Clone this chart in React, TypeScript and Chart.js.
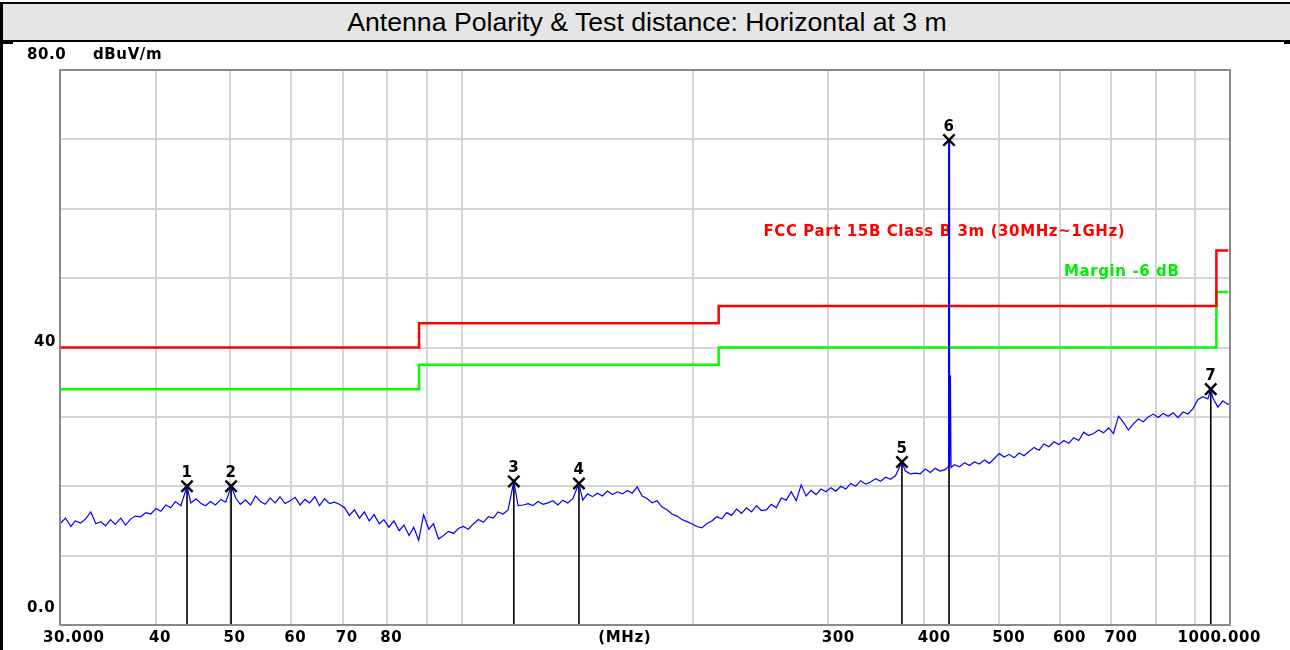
import React, { useEffect, useRef } from 'react';
import { Chart, registerables } from 'chart.js';

Chart.register(...registerables);

const TITLE = 'Antenna Polarity & Test distance: Horizontal at 3 m';
const Y_UNIT = 'dBuV/m';
const X_UNIT = '(MHz)';
const X_UNIT_FREQ = 163;
const X_MIN = 30;
const X_MAX = 1000;
const Y_MIN = 0;
const Y_MAX = 80;

const xGridValues = [40, 50, 60, 70, 80, 90, 100, 200, 300, 400, 500, 600, 700, 800, 900];
const xTickValues = [30, 40, 50, 60, 70, 80, 300, 400, 500, 600, 700, 1000];
const xTickTexts = ['30.000', '40', '50', '60', '70', '80', '300', '400', '500', '600', '700', '1000.000'];
const yTickValues = [0, 40, 80];
const yTickTexts = ['0.0', '40', '80.0'];

const traceFreq = [
  30.0, 30.5, 31.0, 31.4, 31.9, 32.4, 32.9, 33.4, 33.9, 34.4, 34.9, 35.4, 36.0, 36.5, 37.1, 37.6, 38.2, 38.8, 39.4, 40.0,
  40.6, 41.2, 41.8, 42.4, 43.1, 43.9, 44.4, 45.1, 45.8, 46.4, 47.1, 47.8, 48.6, 49.3, 50.1, 50.8, 51.5, 52.3, 53.1, 53.9,
  54.7, 55.5, 56.3, 57.2, 58.0, 58.9, 59.8, 60.7, 61.6, 62.5, 63.4, 64.4, 65.3, 66.3, 67.3, 68.3, 69.3, 70.4, 71.4, 72.5,
  73.6, 74.7, 75.8, 76.9, 78.1, 79.2, 80.4, 81.6, 82.9, 84.1, 85.4, 86.6, 87.9, 89.2, 90.6, 91.9, 93.3, 94.7, 96.1, 97.6,
  99.0, 100.5, 102.0, 103.6, 105.1, 106.7, 108.3, 109.9, 111.5, 113.2, 114.9, 116.9, 118.4, 120.2, 122.0, 123.8, 125.7, 127.6, 129.5, 131.4,
  133.4, 135.4, 137.4, 139.5, 142.1, 143.7, 145.8, 148.0, 150.2, 152.5, 154.8, 157.1, 159.5, 161.9, 164.3, 166.7, 169.2, 171.8, 174.4, 177.0,
  179.6, 182.3, 185.0, 187.8, 190.6, 193.5, 196.4, 199.3, 202.3, 205.4, 208.4, 211.6, 214.7, 218.0, 221.2, 224.5, 227.9, 231.3, 234.8, 238.3,
  241.9, 245.5, 249.2, 252.9, 256.7, 260.6, 264.5, 268.5, 272.5, 276.6, 280.7, 284.9, 289.2, 293.5, 297.9, 302.4, 306.9, 311.5, 316.2, 320.9,
  325.7, 330.6, 335.6, 340.6, 345.7, 350.9, 356.2, 361.5, 366.9, 374.1, 378.0, 383.7, 389.4, 395.3, 401.2, 407.2, 413.3, 419.5, 425.8, 429.5,
  430.3, 430.8, 431.3, 431.8, 432.6, 433.4, 438.0, 444.6, 451.3, 458.0, 464.9, 471.9, 479.0, 486.1, 493.4, 500.8, 508.3, 515.9, 523.7, 531.5,
  539.5, 547.6, 555.8, 564.1, 572.6, 581.2, 589.9, 598.8, 607.7, 616.9, 626.1, 635.5, 645.0, 654.7, 664.5, 674.5, 684.6, 694.9, 705.3, 715.9,
  726.6, 737.5, 748.6, 759.8, 771.2, 782.8, 794.5, 806.4, 818.5, 830.8, 843.3, 855.9, 868.8, 881.8, 895.0, 908.5, 922.1, 935.9, 944.0, 950.0,
  964.2, 978.7, 993.4, 1000.0,
];

const traceLevel = [
  14.6, 15.4, 14.2, 15.0, 14.7, 15.3, 16.3, 14.6, 14.9, 14.3, 15.2, 14.5, 15.4, 14.4, 15.3, 15.7, 15.6, 16.2, 16.0, 16.8,
  16.4, 17.3, 16.9, 17.8, 17.2, 20.0, 17.6, 18.2, 17.5, 17.2, 17.8, 17.3, 18.1, 17.7, 20.0, 18.3, 17.4, 18.0, 17.3, 18.6,
  17.8, 17.4, 18.3, 17.6, 18.5, 17.5, 17.9, 18.4, 17.3, 18.1, 17.6, 18.5, 17.2, 18.2, 17.5, 17.7, 17.4, 16.9, 15.8, 16.6,
  15.4, 16.3, 15.0, 15.9, 14.6, 15.2, 14.1, 15.0, 13.6, 14.4, 12.9, 14.1, 12.2, 15.9, 13.8, 14.6, 12.4, 12.9, 13.5, 13.2,
  13.9, 14.2, 13.8, 14.6, 15.2, 14.8, 15.6, 15.4, 16.3, 16.0, 16.6, 20.7, 17.2, 17.3, 17.5, 17.2, 17.8, 17.4, 17.6, 17.9,
  17.3, 18.0, 17.6, 18.2, 20.4, 18.0, 18.9, 18.5, 19.0, 18.6, 19.3, 18.8, 19.2, 18.9, 19.4, 19.0, 19.9, 18.6, 18.2, 17.6,
  17.9, 17.0, 16.6, 16.0, 15.7, 15.2, 14.9, 14.6, 14.2, 14.0, 14.6, 15.0, 15.6, 15.3, 16.2, 15.8, 16.7, 16.1, 16.9, 16.3,
  17.2, 16.5, 16.6, 17.4, 16.9, 18.3, 18.0, 19.2, 17.9, 20.2, 18.6, 19.4, 18.8, 19.6, 19.2, 19.8, 19.3, 20.0, 19.6, 20.4,
  20.0, 20.8, 20.3, 20.6, 21.1, 20.7, 21.3, 21.0, 21.5, 23.5, 22.2, 21.8, 21.9, 21.8, 22.5, 22.0, 22.6, 22.2, 22.4, 22.8,
  46.0, 69.9, 58.5, 23.0, 36.0, 22.7, 23.1, 22.8, 23.4, 23.0, 23.5, 23.2, 23.8, 23.3, 24.0, 24.7, 24.2, 24.6, 24.1, 24.8,
  24.4, 25.0, 25.6, 25.2, 26.1, 25.7, 26.4, 26.0, 26.6, 26.2, 27.0, 26.6, 27.8, 27.3, 27.6, 28.1, 27.7, 28.4, 27.6, 30.1,
  29.2, 28.1, 29.0, 29.7, 29.3, 30.0, 30.4, 29.9, 30.5, 30.1, 30.6, 29.9, 30.7, 30.4, 31.2, 32.5, 32.9, 32.6, 34.0, 32.7,
  31.4, 32.3, 31.8, 32.0,
];

const limitFreq = [30, 88, 88, 216, 216, 960, 960, 995];
const limitLevel = [40, 40, 43.5, 43.5, 46, 46, 54, 54];
const marginLevel = [34, 34, 37.5, 37.5, 40, 40, 48, 48];

const markerNo = ['1', '2', '3', '4', '5', '6', '7'];
const markerFreq = [43.9, 50.1, 116.9, 142.1, 374.1, 430.8, 944.0];
const markerLevel = [20.0, 20.0, 20.7, 20.4, 23.5, 69.9, 34.0];

const LIMIT_NAME = 'FCC Part 15B Class B 3m (30MHz~1GHz)';
const MARGIN_NAME = 'Margin -6 dB';
const LIMIT_NAME_FREQ = 247;
const LIMIT_NAME_LEVEL = 56.6;
const MARGIN_NAME_FREQ = 608;
const MARGIN_NAME_LEVEL = 50.9;

const LABEL_FONT = 'bold 15px "DejaVu Sans", Verdana, sans-serif';

function setText(ctx: CanvasRenderingContext2D, color: string) {
  ctx.font = LABEL_FONT;
  (ctx as any).letterSpacing = '0.6px';
  ctx.fillStyle = color;
  ctx.textBaseline = 'middle';
}

const decorPlugin = {
  id: 'decor',
  beforeDatasetsDraw(chart: any) {
    const { ctx, scales } = chart;
    const x = scales.x;
    const y = scales.y;
    ctx.save();
    setText(ctx, '#ff0000');
    ctx.textAlign = 'left';
    ctx.fillText(LIMIT_NAME, x.getPixelForValue(LIMIT_NAME_FREQ), y.getPixelForValue(LIMIT_NAME_LEVEL));
    setText(ctx, '#00ee00');
    ctx.fillText(MARGIN_NAME, x.getPixelForValue(MARGIN_NAME_FREQ), y.getPixelForValue(MARGIN_NAME_LEVEL));
    ctx.restore();
  },
  afterDraw(chart: any) {
    const { ctx, chartArea, scales } = chart;
    const x = scales.x;
    const y = scales.y;
    ctx.save();
    ctx.strokeStyle = '#8a8a8a';
    ctx.lineWidth = 2;
    ctx.strokeRect(chartArea.left, chartArea.top, chartArea.right - chartArea.left, chartArea.bottom - chartArea.top);

    setText(ctx, '#000');
    const ly = chartArea.bottom + 13;
    xTickValues.forEach((v, i) => {
      const t = xTickTexts[i];
      const px = x.getPixelForValue(v);
      if (i === 0) {
        ctx.textAlign = 'left';
        ctx.fillText(t, px - 17, ly);
      } else if (i === xTickValues.length - 1) {
        ctx.textAlign = 'right';
        ctx.fillText(t, px + 31, ly);
      } else {
        ctx.textAlign = 'center';
        ctx.fillText(t, px + (t.length >= 3 ? 10 : 4), ly);
      }
    });
    ctx.textAlign = 'center';
    ctx.fillText(X_UNIT, x.getPixelForValue(X_UNIT_FREQ), ly);

    ctx.textAlign = 'left';
    yTickValues.forEach((v, i) => {
      const t = yTickTexts[i];
      const py = y.getPixelForValue(v);
      if (v === Y_MAX) ctx.fillText(t, chartArea.left - 33, py - 15);
      else if (v === Y_MIN) ctx.fillText(t, chartArea.left - 33, py - 17);
      else ctx.fillText(t, chartArea.left - 26, py - 5);
    });
    ctx.fillText(Y_UNIT, chartArea.left + 33, y.getPixelForValue(Y_MAX) - 15);

    ctx.textAlign = 'center';
    markerNo.forEach((n, i) => {
      ctx.fillText(n, x.getPixelForValue(markerFreq[i]), y.getPixelForValue(markerLevel[i]) - 13);
    });
    ctx.restore();
  },
};

export default function App() {
  const ref = useRef<HTMLCanvasElement>(null);

  useEffect(() => {
    const trace = traceFreq.map((f, i) => ({ x: f, y: traceLevel[i] }));
    const limit = limitFreq.map((f, i) => ({ x: f, y: limitLevel[i] }));
    const margin = limitFreq.map((f, i) => ({ x: f, y: marginLevel[i] }));
    const stems: any[] = [];
    markerFreq.forEach((f, i) => {
      stems.push({ x: f, y: markerLevel[i] });
      stems.push({ x: f, y: Y_MIN });
      stems.push({ x: f, y: null });
    });
    const marks = markerFreq.map((f, i) => ({ x: f, y: markerLevel[i] }));

    const chart = new Chart(ref.current as HTMLCanvasElement, {
      type: 'line',
      data: {
        datasets: [
          {
            label: 'Markers',
            data: marks,
            showLine: false,
            pointStyle: 'crossRot',
            pointRadius: 8,
            pointBorderWidth: 2.4,
            pointBorderColor: '#000',
            pointBackgroundColor: '#000',
            order: 0,
          },
          {
            label: 'Trace',
            data: trace,
            borderColor: '#0000ff',
            borderWidth: 1.2,
            pointRadius: 0,
            tension: 0,
            order: 1,
          },
          {
            label: 'Limit',
            data: limit,
            borderColor: '#ff0000',
            borderWidth: 2.5,
            pointRadius: 0,
            tension: 0,
            order: 2,
          },
          {
            label: 'Margin',
            data: margin,
            borderColor: '#00ff00',
            borderWidth: 2.5,
            pointRadius: 0,
            tension: 0,
            order: 2,
          },
          {
            label: 'Stems',
            data: stems,
            borderColor: '#000',
            borderWidth: 1.6,
            pointRadius: 0,
            spanGaps: false,
            order: 3,
          },
        ],
      } as any,
      options: {
        responsive: false,
        animation: false,
        devicePixelRatio: 1,
        events: [],
        layout: { padding: { left: 60, right: 60, top: 26, bottom: 25 } },
        plugins: { legend: { display: false }, tooltip: { enabled: false }, title: { display: false } },
        scales: {
          x: {
            type: 'logarithmic',
            min: X_MIN,
            max: X_MAX,
            afterBuildTicks: (s: any) => {
              s.ticks = xGridValues.map((v) => ({ value: v }));
            },
            ticks: { display: false },
            grid: { color: '#d4d4d4', lineWidth: 2, drawTicks: false },
            border: { display: false },
          },
          y: {
            type: 'linear',
            min: Y_MIN,
            max: Y_MAX,
            ticks: { display: false, stepSize: 10 },
            grid: { color: '#d4d4d4', lineWidth: 2, drawTicks: false },
            border: { display: false },
          },
        },
      } as any,
      plugins: [decorPlugin],
    });
    return () => chart.destroy();
  }, []);

  return (
    <div style={{ position: 'fixed', left: 0, top: 0, width: 1290, height: 650, background: '#fff', overflow: 'hidden' }}>
      <div
        style={{
          position: 'absolute',
          left: 0,
          top: 2,
          width: 1290,
          height: 40,
          boxSizing: 'border-box',
          background: '#e5e5e5',
          borderTop: '2px solid #000',
          borderBottom: '2px solid #000',
          display: 'flex',
          alignItems: 'center',
          justifyContent: 'center',
          fontFamily: '"Liberation Sans", Arial, sans-serif',
          fontSize: '26.67px',
          color: '#000',
          paddingLeft: 4,
        }}
      >
        {TITLE}
      </div>
      <canvas ref={ref} width={1290} height={606} style={{ position: 'absolute', left: 0, top: 44, width: 1290, height: 606 }} />
      <div style={{ position: 'absolute', left: 0, top: 2, width: 3, height: 648, background: '#000' }} />
      <div style={{ position: 'absolute', left: 3, top: 42, width: 10, height: 2, background: '#000' }} />
      <div style={{ position: 'absolute', left: 1284, top: 41, width: 6, height: 3, background: '#000' }} />
    </div>
  );
}
